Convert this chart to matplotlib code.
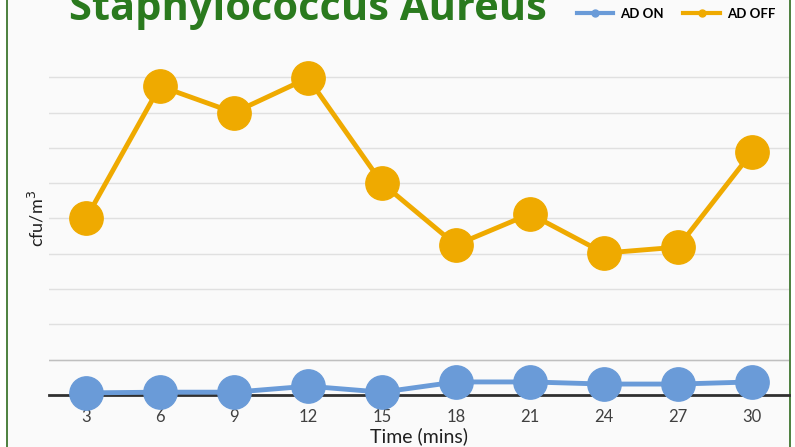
import matplotlib.pyplot as plt
from matplotlib.patches import FancyBboxPatch
from matplotlib.lines import Line2D

times = [3, 6, 9, 12, 15, 18, 21, 24, 27, 30]
ad_on = [0.06, 0.08, 0.08, 0.25, 0.08, 0.37, 0.37, 0.31, 0.31, 0.37]
ad_off = [5.0, 8.75, 8.0, 8.98, 6.0, 4.25, 5.13, 4.02, 4.19, 6.88]

blue = '#6A9BD8'
orange = '#EFAA00'

plt.rcParams['font.family'] = ['Lato', 'DejaVu Sans']

fig = plt.figure(figsize=(7.95, 4.47), dpi=100)
fig.patch.set_facecolor('white')

# green rounded frame of the slide, behind the axes
frame = FancyBboxPatch((7 / 795, -0.05), 783 / 795, 1.2, transform=fig.transFigure,
                       boxstyle='round,pad=0,rounding_size=0.03',
                       facecolor='#FAFAFA', edgecolor='#2E6B1E', linewidth=1.2, zorder=-5)
fig.patches.append(frame)

ax = fig.add_axes([49 / 795, 52 / 447, 740 / 795, 353 / 447])
ax.set_zorder(2)
ax.set_facecolor('none')

x = list(range(len(times)))
ax.plot(x, ad_on, color=blue, lw=3.5, marker='o', ms=24, zorder=3, clip_on=False, label='AD ON')
ax.plot(x, ad_off, color=orange, lw=3.5, marker='o', ms=24, zorder=3, clip_on=False, label='AD OFF')

ax.set_xlim(-0.5, 9.5)
ax.set_ylim(0, 10)
ax.set_xticks(x)
ax.set_xticklabels([str(t) for t in times], fontsize=12, color='#404040')
ax.set_yticks(range(1, 10))
ax.set_yticklabels([])
ax.tick_params(axis='x', length=0, pad=10)
ax.tick_params(axis='y', length=0)
ax.grid(axis='y', color='#E0E0E0', lw=1)
ax.axhline(1, color='#BFBFBF', lw=1, zorder=1)
for s in ['top', 'left', 'right']:
    ax.spines[s].set_visible(False)
ax.spines['bottom'].set_color('#303030')
ax.spines['bottom'].set_linewidth(2)
ax.set_axisbelow(True)

ax.set_xlabel('Time (mins)', fontsize=14, color='#202020', labelpad=2)
ax.set_ylabel('cfu/m$^3$', fontsize=13, color='#202020', labelpad=-2)

fig.text(308 / 795, 1 - 20 / 447, 'Staphylococcus Aureus', fontsize=30, fontweight='bold',
         color='#2A7A1E', ha='center', va='baseline', family='Open Sans')

handles = [Line2D([], [], color=blue, lw=3, marker='o', ms=5),
           Line2D([], [], color=orange, lw=3, marker='o', ms=5)]
fig.legend(handles, ['AD ON', 'AD OFF'], loc='center right', bbox_to_anchor=(782 / 795, 1 - 14 / 447),
           ncol=2, frameon=False, prop={'size': 9.5, 'weight': 'bold'},
           handlelength=2.8, columnspacing=1.5, handletextpad=0.5, borderpad=0)

fig.savefig('out.png', dpi=100)
